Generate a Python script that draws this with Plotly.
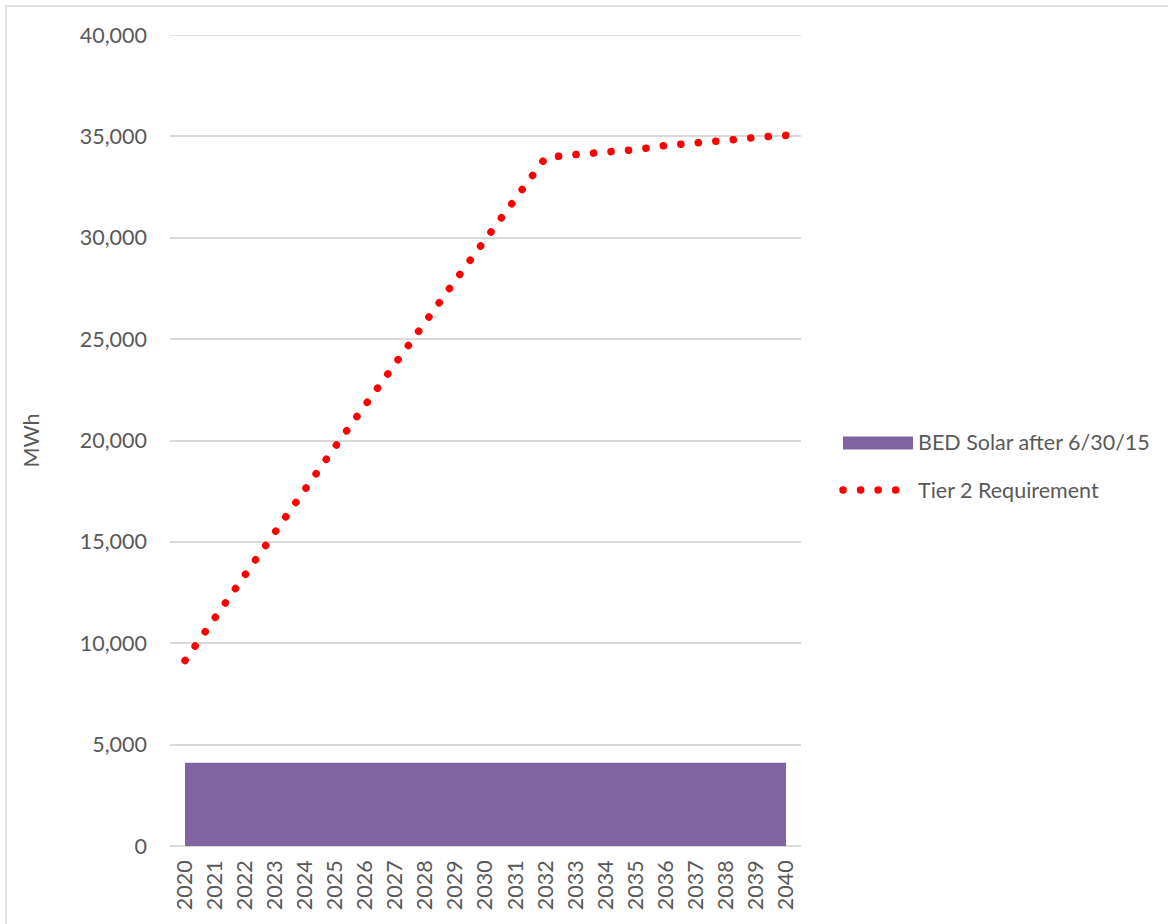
import plotly.graph_objects as go

years = [str(y) for y in range(2020, 2041)]
bed_solar = [4100] * 21
tier2 = [9150, 11300, 13450, 15550, 17600, 19700, 21700, 23750, 25850, 27900,
         29900, 31950, 33950, 34100, 34200, 34350, 34550, 34650, 34800, 34950, 35050]
y_max = 40000

TEXT = "#595959"
GRID = "#D9D9D9"
FONT = "Lato"
FS = 21.5

fig = go.Figure()
fig.add_trace(go.Scatter(
    x=years, y=bed_solar, name="BED Solar after 6/30/15",
    mode="lines", fill="tozeroy", fillcolor="#8064A2",
    line=dict(color="#8064A2", width=0), legendgroup="a",
))
fig.add_trace(go.Scatter(
    x=years, y=tier2, name="Tier 2 Requirement",
    mode="lines", line=dict(color="#FF0000", width=7.5, dash="dot"), legendgroup="b",
))

L, R, T, B = 170, 801, 35, 846
W, H = 1168, 924

def px_to_paper_x(px):
    return (px - L) / (R - L)

def px_to_paper_y(py):
    return (B - py) / (B - T)

fig.update_layout(
    width=W, height=H,
    margin=dict(l=L, r=W - R, t=T, b=H - B, pad=0),
    paper_bgcolor="white", plot_bgcolor="white",
    font=dict(family=FONT, size=FS, color=TEXT),
    showlegend=True,
    legend=dict(
        x=px_to_paper_x(838), xanchor="left",
        y=px_to_paper_y(466), yanchor="middle",
        font=dict(family=FONT, size=FS, color=TEXT),
        itemwidth=70, tracegroupgap=17, bgcolor="rgba(0,0,0,0)",
    ),
    xaxis=dict(
        type="category", range=[-0.5, 20.5],
        showgrid=False, showline=False, zeroline=False,
        ticks="", tickangle=-90, ticklabelstandoff=9,
        tickfont=dict(family=FONT, size=FS, color=TEXT),
        fixedrange=True,
    ),
    yaxis=dict(
        range=[0, y_max], dtick=5000, tickformat=",",
        showgrid=True, gridcolor=GRID, gridwidth=1.5,
        zeroline=True, zerolinecolor=GRID, zerolinewidth=1.5,
        showline=False, ticks="", ticklabelstandoff=22,
        tickfont=dict(family=FONT, size=FS, color=TEXT),
        title=dict(text="MWh", font=dict(family=FONT, size=FS, color=TEXT), standoff=34),
        fixedrange=True,
    ),
    shapes=[
        dict(
            type="rect", xref="paper", yref="paper",
            x0=px_to_paper_x(6), x1=px_to_paper_x(1300),
            y0=px_to_paper_y(1000), y1=px_to_paper_y(6),
            line=dict(color=GRID, width=1.5), fillcolor="rgba(0,0,0,0)", layer="below",
        ),
        dict(
            type="line", xref="paper", yref="y",
            x0=0, x1=1, y0=y_max, y1=y_max,
            line=dict(color=GRID, width=1.5), layer="below",
        ),
    ],
)

post = """
var gd = document.getElementById('{plot_id}');
gd.querySelectorAll('.scatterlayer .trace').forEach(function(t, i){
  t.querySelectorAll('path.js-line').forEach(function(p){
    if (i === 1) {
      p.style.strokeLinecap = 'round';
      p.style.strokeDasharray = '0.1px,17.45px';
    }
  });
});
var items = gd.querySelectorAll('.legend .traces');
if (items.length > 1) {
  items[0].querySelectorAll('path.js-fill').forEach(function(p){
    var b = p.getBBox();
    var cy = b.y + b.height / 2;
    p.setAttribute('d', 'M' + b.x + ',' + (cy - 6.5) + 'h' + b.width + 'v13h-' + b.width + 'z');
  });
  items[1].querySelectorAll('path.js-line').forEach(function(p){
    p.style.strokeLinecap = 'round';
    p.style.strokeDasharray = '0.1px,17.45px';
    p.style.strokeWidth = '7.5px';
  });
}
"""

fig.write_html("out.html", post_script=post, config={"displayModeBar": False})
